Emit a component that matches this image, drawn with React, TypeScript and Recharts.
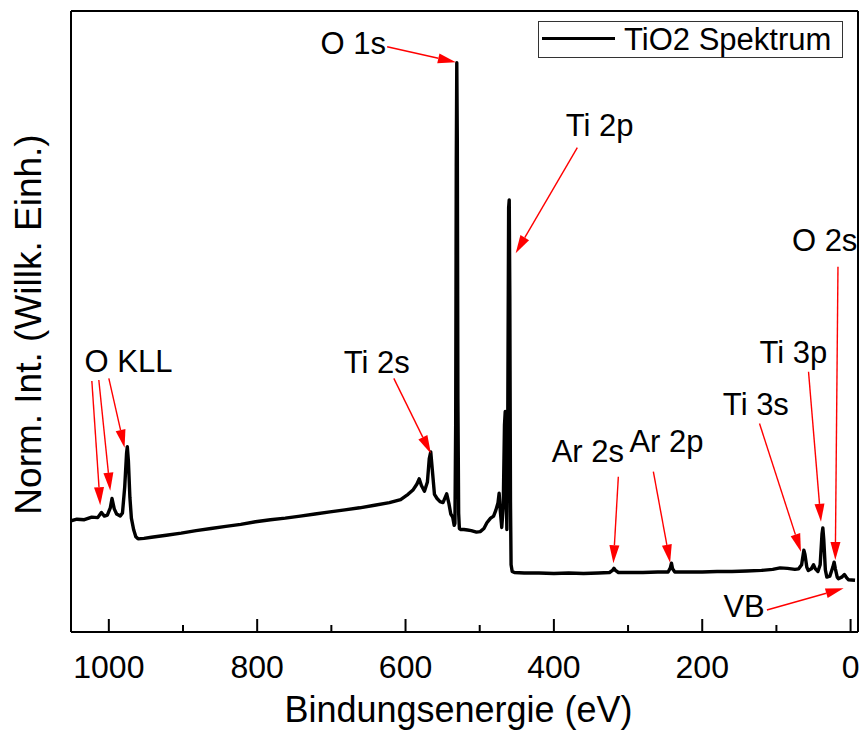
import React from 'react';
import { LineChart, Line, XAxis, YAxis, ReferenceLine, ReferenceDot, Legend } from 'recharts';

const FONT = '"Liberation Sans", Arial, sans-serif';

// Binding energy (eV) and normalised intensity of the TiO2 survey spectrum
const energy = [
  1051, 1043, 1033, 1023, 1015, 1010, 1006, 1002, 998, 995.7, 992.7, 989.5, 984.6, 981.6, 978.6, 976.1, 975.1,
  973.6, 971.6, 969.6, 966.6, 963.6, 960.6, 952.6, 942.5, 922.5, 902.4, 882.4, 862.3, 842.3, 822.2, 802.2,
  782.1, 762.1, 742.0, 722.0, 701.9, 681.8, 661.8, 641.7, 621.7, 606.6, 596.6, 589.6, 584.6, 581.6, 578.6,
  574.5, 570.5, 568.0, 566.0, 564.0, 561.0, 557.5, 553.5, 549.5, 546.5, 544.5, 541.5, 539.0, 536.4, 534.4,
  533.4, 532.4, 531.6, 530.9, 530.2, 529.4, 528.4, 527.4, 525.4, 521.4, 516.4, 511.4, 504.4, 499.3, 494.3,
  490.3, 485.3, 481.3, 478.3, 475.3, 473.8, 472.3, 470.3, 468.3, 466.6, 465.6, 464.6, 463.4, 462.2, 461.0,
  460.2, 459.4, 458.5, 457.7, 456.2, 453.2, 440, 420, 400, 380, 360, 340, 325, 321, 319, 317, 313, 300, 280,
  260, 246, 243, 241.5, 240, 237, 220, 200, 180, 160, 140, 120, 105, 95, 85, 75, 70, 66, 63, 61.5, 59, 57,
  53, 50, 47.5, 44, 41, 38.5, 37.4, 36.2, 34, 32, 28, 24, 22.2, 20.5, 18, 16.4, 12, 8.3, 5.5, 3, -6,
];
const intensity = [
  0.115, 0.118, 0.117, 0.122, 0.121, 0.131, 0.124, 0.126, 0.140, 0.158, 0.138, 0.128, 0.124, 0.130, 0.180, 0.245, 0.258,
  0.230, 0.160, 0.120, 0.098, 0.084, 0.080, 0.081, 0.083, 0.087, 0.091, 0.096, 0.100, 0.104, 0.108, 0.113,
  0.117, 0.120, 0.124, 0.128, 0.132, 0.136, 0.140, 0.145, 0.150, 0.156, 0.166, 0.175, 0.186, 0.196, 0.183,
  0.172, 0.190, 0.235, 0.248, 0.215, 0.166, 0.158, 0.152, 0.150, 0.160, 0.167, 0.148, 0.128, 0.122, 0.106,
  0.110, 0.300, 0.800, 1.000, 0.850, 0.350, 0.130, 0.100, 0.098, 0.098, 0.097, 0.096, 0.093, 0.094, 0.100,
  0.111, 0.120, 0.124, 0.135, 0.150, 0.168, 0.135, 0.102, 0.140, 0.300, 0.326, 0.220, 0.098, 0.300, 0.720,
  0.735, 0.550, 0.150, 0.030, 0.017, 0.015, 0.014, 0.014, 0.013, 0.014, 0.013, 0.014, 0.015, 0.019, 0.023, 0.019, 0.015, 0.015, 0.015,
  0.016, 0.016, 0.024, 0.033, 0.022, 0.016, 0.016, 0.016, 0.017, 0.017, 0.018, 0.019, 0.021, 0.024, 0.023, 0.021, 0.022, 0.030, 0.058, 0.050, 0.025, 0.019,
  0.022, 0.030, 0.022, 0.017, 0.030, 0.090, 0.101, 0.080, 0.020, 0.006, 0.008, 0.025, 0.035, 0.022, 0.006, 0.003, 0.006, 0.011, 0.005, 0.001, 0.000,
];

const xTicks = [0, 100, 200, 300, 400, 500, 600, 700, 800, 900, 1000];
const yTicks = [-0.1, 0, 0.1, 0.2, 0.3, 0.4, 0.5, 0.6, 0.7, 0.8, 0.9, 1.0, 1.1];

// Peak annotations (text anchor in data coordinates)
const annotLabels = ['O 1s', 'Ti 2p', 'Ti 2s', 'O KLL', 'Ar 2s', 'Ar 2p', 'Ti 3s', 'Ti 3p', 'O 2s', 'VB'];
const annotE = [714.7, 384.1, 683.3, 1032.8, 403.0, 298.2, 172.2, 122.8, 79.1, 171.4];
const annotI = [1.017, 0.859, 0.401, 0.403, 0.229, 0.248, 0.319, 0.419, 0.637, -0.0716];

// Arrows: from (fromE, fromI) to (toE, toI)
const arrowFromE = [624.8, 368.4, 615.8, 1022.9, 1013.5, 1000.0, 313.1, 265.9, 122.8, 56.7, 17.0, 112.8];
const arrowFromI = [1.031, 0.836, 0.390, 0.385, 0.387, 0.390, 0.200, 0.210, 0.303, 0.403, 0.606, -0.0575];
const arrowToE = [532.1, 451.5, 565.9, 1011.6, 998.1, 978.8, 319.8, 243.3, 66.9, 39.9, 20.6, 9.4];
const arrowToI = [1.001, 0.632, 0.245, 0.145, 0.173, 0.256, 0.033, 0.034, 0.055, 0.113, 0.039, -0.0156];

const data = energy.map((e, i) => ({ E: e, I: intensity[i] }));

const Arrow = (p: any) => {
  const { x1, y1, x2, y2 } = p;
  if ([x1, y1, x2, y2].some((v) => v == null || isNaN(v))) return <g />;
  const dx = x2 - x1;
  const dy = y2 - y1;
  const len = Math.hypot(dx, dy) || 1;
  const ux = dx / len;
  const uy = dy / len;
  const L = 18;
  const W = 5;
  const bx = x2 - ux * L;
  const by = y2 - uy * L;
  const pts = `${x2},${y2} ${bx - uy * W},${by + ux * W} ${bx + uy * W},${by - ux * W}`;
  return (
    <g>
      <line x1={x1} y1={y1} x2={bx} y2={by} stroke="#ff0000" strokeWidth={1.4} />
      <polygon points={pts} fill="#ff0000" />
    </g>
  );
};

const BottomTick = (props: any) => {
  const { x, y, payload } = props;
  const v = payload.value;
  const major = v % 200 === 0;
  return (
    <g>
      <line x1={x} x2={x} y1={y} y2={y - (major ? 13 : 7)} stroke="#000" strokeWidth={2} />
      {major && (
        <text x={x} y={y + 46} textAnchor="middle" fontSize={32} fontFamily={FONT} fill="#000">
          {v}
        </text>
      )}
    </g>
  );
};

const XTitle = (p: any) => {
  const vb = p.viewBox || { x: 71, y: 632, width: 787 };
  return (
    <text x={vb.x + vb.width / 2 - 6} y={vb.y + 90} textAnchor="middle" fontSize={36} fontFamily={FONT} fill="#000">
      Bindungsenergie (eV)
    </text>
  );
};

const YTitle = (p: any) => {
  const vb = p.viewBox || { x: 70, y: 11, width: 1, height: 621 };
  const tx = vb.x + (vb.width || 0) - 30;
  const ty = vb.y + vb.height / 2 + 3;
  return (
    <text
      x={tx}
      y={ty}
      transform={`rotate(-90, ${tx}, ${ty})`}
      textAnchor="middle"
      fontSize={37}
      fontFamily={FONT}
      fill="#000"
    >
      Norm. Int. (Willk. Einh.)
    </text>
  );
};

const LegendBox = (props: any) => {
  const name = props?.payload?.[0]?.value ?? 'TiO2 Spektrum';
  return (
    <svg width={305} height={37} style={{ display: 'block' }}>
      <rect x={0.5} y={0.5} width={304} height={36} fill="#fff" stroke="#333" strokeWidth={1} />
      <line x1={4} x2={77} y1={17.5} y2={17.5} stroke="#000" strokeWidth={3} />
      <text x={86} y={29} fontSize={31} fontFamily={FONT} fill="#000">
        {name}
      </text>
    </svg>
  );
};

export default function App() {
  return (
    <div style={{ position: 'absolute', left: 0, top: 0, width: 863, height: 737, background: '#fff' }}>
      <LineChart
        width={863}
        height={737}
        data={data}
        margin={{ top: 10, right: 4, bottom: 0, left: 70 }}
        style={{ fontFamily: FONT }}
      >
        <XAxis
          xAxisId="main"
          dataKey="E"
          type="number"
          domain={[-10, 1051]}
          reversed
          ticks={xTicks}
          interval={0}
          allowDataOverflow
          height={105}
          tickSize={0}
          tickMargin={0}
          tickLine={false}
          tick={<BottomTick />}
          axisLine={{ stroke: '#000', strokeWidth: 2 }}
          label={(p: any) => <XTitle {...p} />}
        />
        <XAxis
          xAxisId="top"
          dataKey="E"
          type="number"
          orientation="top"
          domain={[-10, 1051]}
          reversed
          ticks={xTicks}
          interval={0}
          allowDataOverflow
          height={1}
          tickSize={-4}
          tick={false}
          tickLine={{ stroke: '#000', strokeWidth: 1.5 }}
          axisLine={{ stroke: '#000', strokeWidth: 2 }}
        />
        <YAxis
          yAxisId="left"
          type="number"
          domain={[-0.1, 1.1]}
          ticks={yTicks}
          interval={0}
          allowDataOverflow
          width={1}
          tickSize={-4}
          tick={false}
          tickLine={{ stroke: '#000', strokeWidth: 1.5 }}
          axisLine={{ stroke: '#000', strokeWidth: 2 }}
          label={(p: any) => <YTitle {...p} />}
        />
        <YAxis
          yAxisId="right"
          orientation="right"
          type="number"
          domain={[-0.1, 1.1]}
          ticks={yTicks}
          interval={0}
          allowDataOverflow
          width={1}
          tickSize={4}
          tick={false}
          tickLine={{ stroke: '#000', strokeWidth: 1.5 }}
          axisLine={{ stroke: '#000', strokeWidth: 2 }}
        />
        <Legend
          verticalAlign="middle"
          align="center"
          layout="horizontal"
          wrapperStyle={{ position: 'absolute', top: 21, left: 538, width: 305, height: 37 }}
          content={(p: any) => <LegendBox {...p} />}
        />
        <Line
          xAxisId="main"
          yAxisId="left"
          type="linear"
          dataKey="I"
          name="TiO2 Spektrum"
          stroke="#000"
          strokeWidth={3.4}
          strokeLinejoin="round"
          dot={false}
          activeDot={false}
          isAnimationActive={false}
        />
        {arrowFromE.map((fe, i) => (
          <ReferenceLine
            key={`arrow-${i}`}
            xAxisId="main"
            yAxisId="left"
            segment={[
              { x: fe, y: arrowFromI[i] },
              { x: arrowToE[i], y: arrowToI[i] },
            ]}
            stroke="#ff0000"
            ifOverflow="visible"
            shape={(p: any) => <Arrow {...p} />}
          />
        ))}
        {annotLabels.map((lab, i) => (
          <ReferenceDot
            key={`lab-${i}`}
            xAxisId="main"
            yAxisId="left"
            x={annotE[i]}
            y={annotI[i]}
            r={0}
            ifOverflow="visible"
            shape={(p: any) => (
              <text x={p.cx} y={p.cy} fontSize={31} fontFamily={FONT} fill="#000">
                {lab}
              </text>
            )}
          />
        ))}
      </LineChart>
    </div>
  );
}
